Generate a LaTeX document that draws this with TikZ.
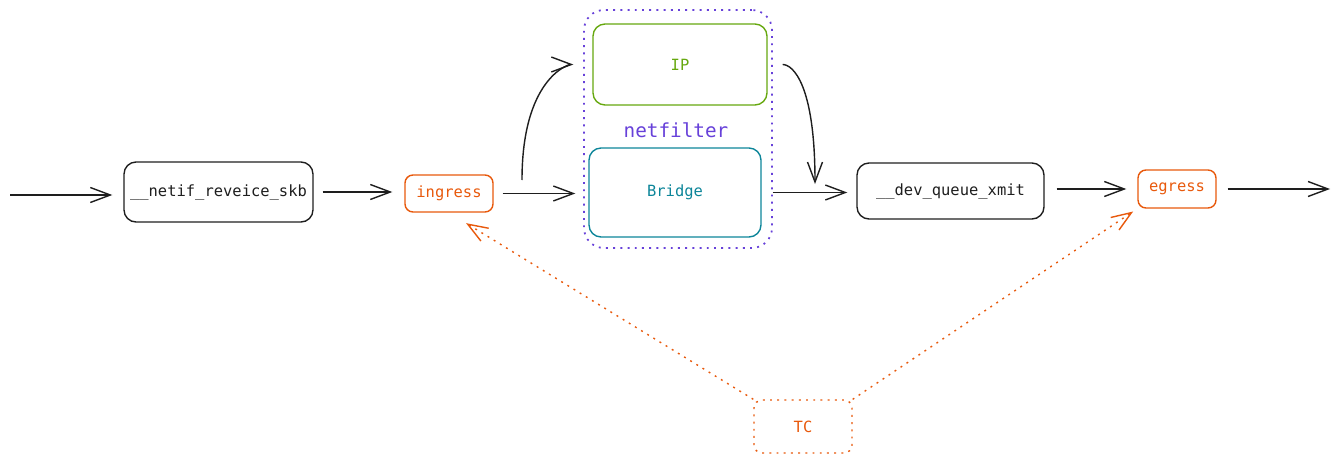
\documentclass[tikz,border=0pt]{standalone}
\usepackage{fontspec}
\setmonofont{DejaVu Sans Mono}
\usetikzlibrary{arrows.meta}

\definecolor{ink}{HTML}{1E1E1E}
\definecolor{tcorange}{HTML}{E8590C}
\definecolor{ipgreen}{HTML}{66A80F}
\definecolor{brteal}{HTML}{0C8599}
\definecolor{nfviolet}{HTML}{6741D9}

\tikzset{
  box/.style={draw=ink, line width=0.8pt, rounded corners=0.24cm, inner sep=0pt,
    font=\ttfamily\fontsize{8.8}{10}\selectfont, text=ink},
  hook/.style={box, draw=tcorange, text=tcorange, rounded corners=0.16cm},
  sparse/.style={dash pattern=on 1.1pt off 3pt},
  flow/.style={draw=ink, line width=0.8pt, -{Straight Barb[length=0.4cm,width=0.3cm]}},
  tcline/.style={draw=tcorange, line width=0.8pt, sparse, -{Straight Barb[length=0.4cm,width=0.3cm]}}
}

\begin{document}
\begin{tikzpicture}[x=0.02cm,y=-0.02cm]
\useasboundingbox (0,0) rectangle (1340,463);

% receive side
\node[box, minimum width=3.78cm, minimum height=1.2cm] (recv) at (218.5,192) {\_\_netif\_reveice\_skb};
\node[hook, minimum width=1.76cm, minimum height=0.74cm] (ingress) at (449,193.5) {ingress};

% netfilter
\node[box, draw=nfviolet, sparse, line width=1pt, rounded corners=0.4cm, minimum width=3.76cm, minimum height=4.76cm] (nf) at (678,129) {};
\node[box, draw=ipgreen, text=ipgreen, minimum width=3.48cm, minimum height=1.62cm] (ip) at (680,64.5) {IP};
\node[font=\ttfamily\fontsize{11}{12}\selectfont, text=nfviolet] (nflabel) at (676,130) {netfilter};
\node[box, draw=brteal, text=brteal, minimum width=3.44cm, minimum height=1.78cm] (bridge) at (675,192.5) {Bridge};

% transmit side
\node[box, minimum width=3.74cm, minimum height=1.12cm] (xmit) at (950.5,191) {\_\_dev\_queue\_xmit};
\node[hook, minimum width=1.56cm, minimum height=0.76cm] (egress) at (1177,189) {egress};

% traffic control
\node[hook, sparse, minimum width=1.96cm, minimum height=1.06cm] (tc) at (803,426.5) {TC};

\coordinate (src) at (10,195);
\coordinate (sink) at (1330,189);
\coordinate (rise) at (522,180);
\coordinate (drop) at (815,184);

\draw[flow, shorten >=0.22cm] (src) -- (src -| recv.west);
\draw[flow, shorten <=0.18cm, shorten >=0.24cm] (recv.east) -- (recv.east -| ingress.west);
\draw[flow, shorten <=0.18cm, shorten >=0.26cm] (ingress.east) -- (ingress.east -| bridge.west);
\draw[flow, shorten >=0.38cm] (rise) to[out=90, in=180, out distance=2cm, in distance=0.5cm] (ip.west);
\draw[flow, shorten <=0.3cm] (ip.east) to[out=0, in=90, out distance=0.5cm, in distance=2cm] (drop);
\draw[flow, shorten <=0.22cm, shorten >=0.18cm] (bridge.east) -- (bridge.east -| xmit.west);
\draw[flow, shorten <=0.24cm, shorten >=0.22cm] (egress.west -| xmit.east) -- (egress.west);
\draw[flow, shorten <=0.22cm] (egress.east) -- (sink);

\draw[tcline, shorten >=0.4cm] (tc.north west) -- (ingress.south);
\draw[tcline, shorten >=0.1cm] (tc.north east) -- (egress.south west);
\end{tikzpicture}
\end{document}
